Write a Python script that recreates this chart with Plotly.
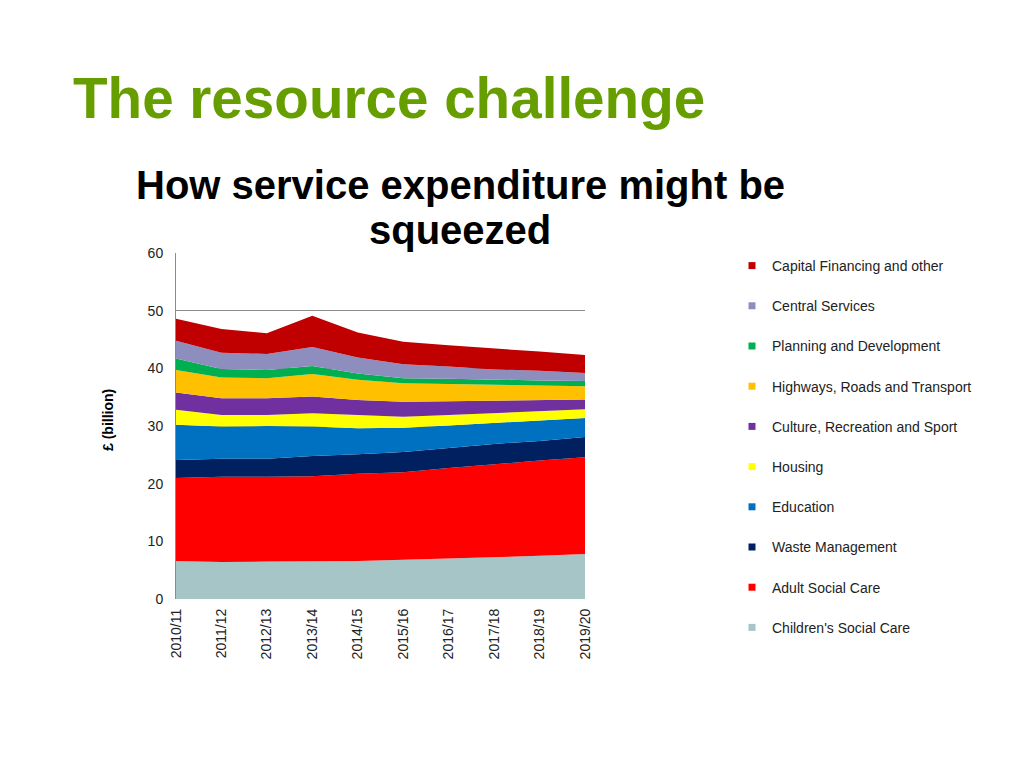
import plotly.graph_objects as go

years = ["2010/11", "2011/12", "2012/13", "2013/14", "2014/15",
         "2015/16", "2016/17", "2017/18", "2018/19", "2019/20"]

childrens_social_care = [6.6, 6.4, 6.5, 6.5, 6.6, 6.8, 7.0, 7.2, 7.5, 7.8]
adult_social_care = [14.4, 14.8, 14.7, 14.8, 15.1, 15.2, 15.7, 16.2, 16.5, 16.8]
waste_management = [3.1, 3.1, 3.1, 3.5, 3.4, 3.5, 3.5, 3.5, 3.4, 3.5]
education = [6.1, 5.6, 5.7, 5.1, 4.5, 4.2, 3.9, 3.6, 3.5, 3.3]
housing = [2.6, 2.0, 1.9, 2.3, 2.3, 1.9, 1.8, 1.7, 1.6, 1.5]
culture = [3.0, 2.9, 2.9, 2.9, 2.6, 2.6, 2.4, 2.2, 2.0, 1.7]
highways = [3.9, 3.6, 3.5, 3.9, 3.5, 3.2, 3.0, 2.8, 2.6, 2.3]
planning = [2.0, 1.5, 1.4, 1.4, 1.1, 0.9, 0.9, 0.8, 0.8, 0.9]
central_services = [3.1, 2.8, 2.8, 3.3, 2.8, 2.4, 2.1, 1.8, 1.7, 1.4]
capital_financing = [3.8, 4.1, 3.6, 5.4, 4.3, 3.9, 3.7, 3.7, 3.3, 3.1]

series_names = ["Children's Social Care", "Adult Social Care", "Waste Management",
                "Education", "Housing", "Culture, Recreation and Sport",
                "Highways, Roads and Transport", "Planning and Development",
                "Central Services", "Capital Financing and other"]
series_values = [childrens_social_care, adult_social_care, waste_management,
                 education, housing, culture, highways, planning,
                 central_services, capital_financing]
series_colors = ["#A5C5C7", "#FF0000", "#002060", "#0070C0", "#FFFF00",
                 "#7030A0", "#FFC000", "#00B050", "#8E8EBE", "#C00000"]

fig = go.Figure()
for name, vals, col in zip(series_names, series_values, series_colors):
    fig.add_trace(go.Scatter(
        x=years, y=vals, name=name, stackgroup="one", mode="lines",
        line=dict(width=0, color=col), fillcolor=col, showlegend=False,
        hoverinfo="x+y+name"))

# legend entries (small squares), top to bottom
for i, (name, col) in enumerate(reversed(list(zip(series_names, series_colors)))):
    fig.add_trace(go.Scatter(
        x=[None], y=[None], name=name, mode="markers",
        marker=dict(symbol="square", size=7, color=col),
        legendgroup=f"g{i:02d}", showlegend=True))

# page offset of the figure (body margin)
OFF = 8
L, R, T, B = 176 - OFF, 585 - OFF, 253 - OFF, 599 - OFF
W, H = 1000, 744
pw, ph = R - L, B - T

def px(x):
    return (x - OFF - L) / pw

def py(y):
    return (B - (y - OFF)) / ph

fig.update_layout(
    width=W, height=H, autosize=False,
    margin=dict(l=L, r=W - R, t=T, b=H - B, pad=0),
    paper_bgcolor="white", plot_bgcolor="white",
    font=dict(family="Liberation Sans, Arial, sans-serif", size=14, color="#222222"),
    showlegend=True,
    legend=dict(
        x=px(732), y=py(250), xanchor="left", yanchor="top",
        traceorder="grouped", tracegroupgap=19, maxheight=600,
        font=dict(size=14, color="#222222"),
        bgcolor="rgba(0,0,0,0)", itemclick=False, itemdoubleclick=False),
    xaxis=dict(
        type="category", range=[0, 9], tickangle=-90,
        showgrid=False, showline=False, zeroline=False, ticks="",
        ticklabelstandoff=6,
        tickfont=dict(size=14, color="#222222")),
    yaxis=dict(
        range=[0, 60], dtick=10, showgrid=True, gridcolor="#8C8C8C", gridwidth=1,
        showline=True, linecolor="#8C8C8C", linewidth=1, zeroline=False,
        ticks="", ticklabelstandoff=9,
        tickfont=dict(size=14, color="#222222")),
    annotations=[
        dict(text="<b>The resource challenge</b>", xref="paper", yref="paper",
             x=px(71), y=py(98), xanchor="left", yanchor="middle", showarrow=False,
             font=dict(size=56.6, color="#669E00", family="Liberation Sans, Arial, sans-serif")),
        dict(text="<b>How service expenditure might be</b>", xref="paper", yref="paper",
             x=px(460), y=py(185), xanchor="center", yanchor="middle", showarrow=False,
             font=dict(size=40, color="#000000", family="Liberation Sans, Arial, sans-serif")),
        dict(text="<b>squeezed</b>", xref="paper", yref="paper",
             x=px(460), y=py(230), xanchor="center", yanchor="middle", showarrow=False,
             font=dict(size=40, color="#000000", family="Liberation Sans, Arial, sans-serif")),
        dict(text="<b>£ (billion)</b>", xref="paper", yref="paper",
             x=px(108), y=py(420), xanchor="center", yanchor="middle", showarrow=False,
             textangle=-90,
             font=dict(size=14, color="#000000", family="Liberation Sans, Arial, sans-serif")),
    ],
)

fig.write_html("out.html")
